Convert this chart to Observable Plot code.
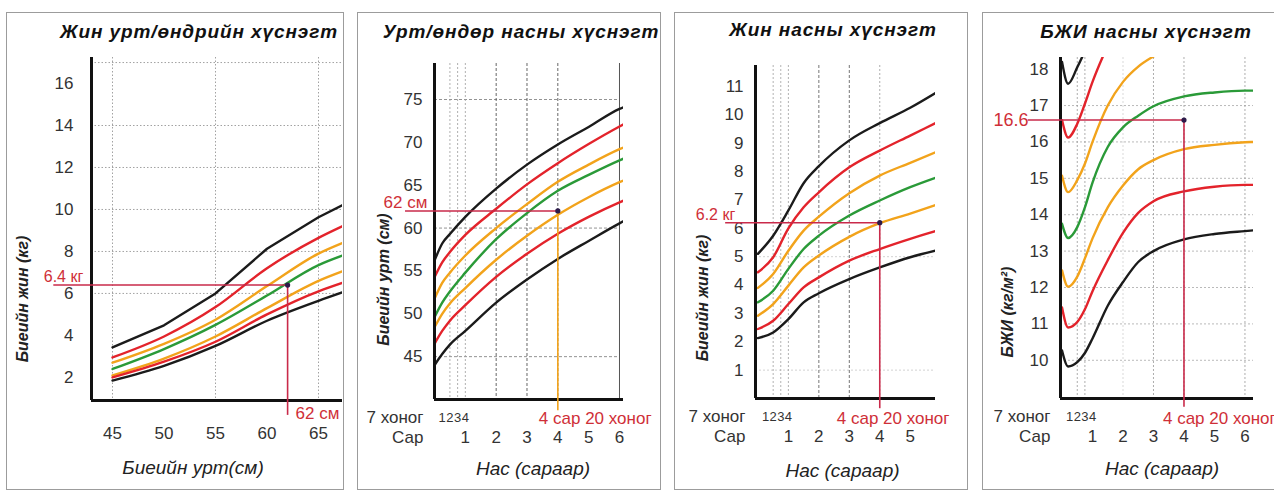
<!DOCTYPE html>
<html><head><meta charset="utf-8">
<script src="https://cdn.jsdelivr.net/npm/d3@7"></script>
<script src="https://cdn.jsdelivr.net/npm/@observablehq/plot@0.6"></script>
<style>
html,body{margin:0;padding:0;background:#fff}
body{width:1274px;height:491px;overflow:hidden;position:relative;font-family:"Liberation Sans",Arial,sans-serif}
.box{position:absolute;border:1.5px solid #9c9c9c;box-sizing:border-box}
.title{position:absolute;font-weight:bold;font-style:italic;font-size:19px;letter-spacing:0.9px;white-space:nowrap;transform:translate(-50%,-50%);color:#111}
svg{overflow:visible}
</style></head><body>
<script>
// ---------- shared ----------
const FONT = "'Liberation Sans', Arial, sans-serif";
const BLACK = "#1b1b1b", RED = "#e3232b", ORANGE = "#f2a31b", GREEN = "#2a9a38";
const seriesColors = [BLACK, RED, ORANGE, GREEN, ORANGE, RED, BLACK]; // +3,+2,+1,0,-1,-2,-3
const ANNOT = "#c92a4a", ANNOT_TEXT = "#cf2f38", DOT = "#2d1b4a";

// ---------- panel 1: weight-for-length ----------
const p1Title = "Жин урт/өндрийн хүснэгт";
const p1YLabel = "Биеийн жин (кг)";
const p1XLabel = "Биеийн урт(см)";
const p1Length = [45, 50, 55, 60, 65, 67.3];
const p1P3 = [3.43, 4.48, 6.0, 8.13, 9.63, 10.2];
const p1P2 = [2.95, 3.95, 5.35, 7.2, 8.65, 9.2];
const p1P1 = [2.7, 3.6, 4.75, 6.35, 7.9, 8.4];
const p1M  = [2.4, 3.35, 4.5, 5.9, 7.35, 7.8];
const p1N1 = [2.1, 2.9, 3.95, 5.3, 6.6, 7.05];
const p1N2 = [2.0, 2.75, 3.7, 5.0, 6.1, 6.5];
const p1N3 = [1.85, 2.55, 3.5, 4.7, 5.65, 6.05];
const p1YTicks = [2, 4, 6, 8, 10, 12, 14, 16];
const p1XTicks = [45, 50, 55, 60, 65];
const p1GridY = [6, 8, 10, 12, 14, 17];
const p1GridX = [45, 55, 65];
const p1Marker = {x: 62, y: 6.4, yText: "6.4 кг", xText: "62 см", lineFrom: 39.3, lineTo: 0.19};

// ---------- panel 2: length-for-age ----------
const p2Title = "Урт/өндөр насны хүснэгт";
const p2YLabel = "Биеийн урт (см)";
const p2Age = [0, 0.25, 0.5, 1, 2, 3, 4, 5, 6, 6.13];
const p2P3 = [56.2, 58.2, 59.3, 61.3, 64.6, 67.4, 69.75, 71.8, 73.9, 74.1];
const p2P2 = [54.26, 56.0, 57.2, 59.2, 62.25, 65.1, 67.57, 69.8, 71.85, 72.1];
const p2P1 = [51.74, 53.6, 54.8, 56.8, 60.0, 62.8, 65.4, 67.4, 69.2, 69.4];
const p2M  = [49.6, 51.3, 52.6, 54.8, 58.7, 61.75, 64.35, 66.2, 67.9, 68.1];
const p2N1 = [48.43, 50.0, 51.2, 53.0, 56.3, 59.1, 61.55, 63.6, 65.35, 65.55];
const p2N2 = [46.5, 48.0, 49.2, 51.0, 54.3, 57.0, 59.33, 61.3, 63.0, 63.2];
const p2N3 = [44.0, 45.3, 46.4, 48.0, 51.3, 54.0, 56.4, 58.5, 60.55, 60.8];
const p2YTicks = [45, 50, 55, 60, 65, 70, 75];
const p2Months = [1, 2, 3, 4, 5, 6];
const p2GridY = [45, 60, 75];
const p2Marker = {x: 4, y: 62, yText: "62 см", xText: "4 сар 20 хоног", lineFrom: -0.94, lineTo: 38.7};

// ---------- panel 3: weight-for-age ----------
const p3Title = "Жин насны хүснэгт";
const p3YLabel = "Биеийн жин (кг)";
const p3Age = [0, 0.5, 1, 1.5, 2, 3, 4, 5, 5.83];
const p3P3 = [5.10, 5.74, 6.63, 7.59, 8.19, 9.10, 9.71, 10.25, 10.77];
const p3P2 = [4.45, 4.98, 6.0, 6.74, 7.27, 8.15, 8.74, 9.27, 9.71];
const p3P1 = [3.90, 4.39, 5.21, 5.92, 6.41, 7.24, 7.86, 8.31, 8.68];
const p3M  = [3.39, 3.80, 4.57, 5.27, 5.74, 6.45, 6.98, 7.45, 7.78];
const p3N1 = [2.92, 3.33, 3.98, 4.62, 5.04, 5.7, 6.18, 6.52, 6.82];
const p3N2 = [2.45, 2.74, 3.33, 3.92, 4.27, 4.86, 5.27, 5.63, 5.90];
const p3N3 = [2.13, 2.33, 2.80, 3.39, 3.71, 4.21, 4.62, 4.98, 5.21];
const p3YTicks = [1, 2, 3, 4, 5, 6, 7, 8, 9, 10, 11];
const p3Months = [1, 2, 3, 4, 5];
const p3GridY = [1, 5];
const p3Marker = {x: 4, y: 6.2, yText: "6.2 кг", xText: "4 сар 20 хоног", lineFrom: -1.06, lineTo: -0.36};

// ---------- panel 4: BMI-for-age ----------
const p4Title = "БЖИ насны хүснэгт";
const p4YLabel = "БЖИ (кг/м²)";
const p4Age = [0, 0.2, 0.5, 0.75, 1, 1.5, 2, 2.5, 3, 4, 5, 6, 6.28];
const p4P3 = [18.2, 17.6, 18.05, 18.5, 19.0, null, null, null, null, null, null, null, null];
const p4P2 = [16.6, 16.12, 16.5, 17.05, 17.65, 18.65, null, null, null, null, null, null, null];
const p4P1 = [15.07, 14.62, 14.95, 15.4, 16.0, 17.0, 17.65, 18.07, 18.35, 18.75, null, null, null];
const p4M  = [13.75, 13.36, 13.66, 14.2, 14.88, 15.86, 16.4, 16.72, 16.98, 17.25, 17.36, 17.41, 17.41];
const p4N1 = [12.47, 12.02, 12.3, 12.8, 13.35, 14.2, 14.8, 15.25, 15.5, 15.8, 15.92, 15.99, 16.0];
const p4N2 = [11.45, 10.9, 11.05, 11.4, 11.9, 12.75, 13.5, 14.05, 14.37, 14.64, 14.77, 14.82, 14.82];
const p4N3 = [10.27, 9.83, 9.95, 10.2, 10.6, 11.5, 12.15, 12.7, 13.0, 13.32, 13.47, 13.55, 13.57];
const p4YTicks = [10, 11, 12, 13, 14, 15, 16, 17, 18];
const p4Months = [1, 2, 3, 4, 5, 6];
const p4GridY = [10, 11, 12, 13, 14, 15, 16, 17];
const p4Marker = {x: 4, y: 16.6, yText: "16.6", xText: "4 сар 20 хоног", lineFrom: -1.11, lineTo: 8.71};

// shared age-axis labels
const weekLabel = "7 хоног", monthLabel = "Сар", ageLabel = "Нас (сараар)";
const weeks = [1, 2, 3, 4];

// ---------- helpers ----------
function toRows(xs, series) {
  return series.flatMap((ys, s) => xs.map((x, i) => ({x, y: ys[i], s}))).filter(d => d.y != null);
}
function curveMarks(rows, curveFor) {
  return d3.range(7).map(s => Plot.line(rows.filter(d => d.s === s), {
    x: "x", y: "y", stroke: seriesColors[s], strokeWidth: 2.4,
    curve: curveFor ? curveFor(s) : "monotone-x", clip: true
  }));
}
function box(left, width) {
  const d = document.createElement("div");
  d.className = "box";
  Object.assign(d.style, {left: left + "px", top: "12px", width: width + "px", height: "478px"});
  document.body.append(d);
}
function title(text, cx, cy) {
  const d = document.createElement("div");
  d.className = "title"; d.textContent = text;
  Object.assign(d.style, {left: cx + "px", top: cy + "px"});
  document.body.append(d);
}
function place(svg, left) {
  svg.style.position = "absolute"; svg.style.left = left + "px"; svg.style.top = "0px";
  document.body.append(svg);
}
const MID = {lineAnchor: "middle"};
const tickText = (ticks, dx) => Plot.text(ticks, {y: d => d, text: d => String(d), frameAnchor: "left",
  dx, textAnchor: "end", ...MID, fontSize: 17, fill: "#333"});
const axisLines = (xd, yd) => [
  Plot.ruleX([xd[0]], {stroke: "#111", strokeWidth: 3}),
  Plot.ruleY([yd[0]], {stroke: "#111", strokeWidth: 3})
];
function ageAxis(months, labelDx, titleDx, titleDy) {
  return [
    Plot.text(weeks, {x: d => d / 4, text: d => String(d), frameAnchor: "bottom", dy: 18, ...MID, textAnchor: "middle", fontSize: 13, fill: "#333"}),
    Plot.text(months, {x: d => d, text: d => String(d), frameAnchor: "bottom", dy: 38, ...MID, textAnchor: "middle", fontSize: 17, fill: "#333"}),
    Plot.text([weekLabel], {text: d => d, frameAnchor: "bottom-left", dx: labelDx, dy: 18, ...MID, textAnchor: "end", fontSize: 17, fill: "#333"}),
    Plot.text([monthLabel], {text: d => d, frameAnchor: "bottom-left", dx: labelDx, dy: 38, ...MID, textAnchor: "end", fontSize: 17, fill: "#333"}),
    Plot.text([ageLabel], {text: d => d, frameAnchor: "bottom", dx: titleDx, dy: titleDy, ...MID, textAnchor: "middle", fontSize: 19, fontStyle: "italic", fill: "#222"})
  ];
}
function yTitle(text, dx, dy) {
  return Plot.text([text], {text: d => d, frameAnchor: "left", rotate: -90, dx, dy, textAnchor: "middle", ...MID,
    fontSize: 16, fontWeight: "bold", fontStyle: "italic", fill: "#222"});
}
function marker(m, vColor, o) {
  return [
    Plot.ruleY([m], {y: "y", x1: "lineFrom", x2: "x", stroke: ANNOT, strokeWidth: 1.5}),
    Plot.ruleX([m], {x: "x", y1: "y", y2: "lineTo", stroke: vColor, strokeWidth: 1.6}),
    Plot.dot([m], {x: "x", y: "y", r: 2.6, fill: DOT}),
    Plot.text([m], {y: "y", text: "yText", frameAnchor: "left", dx: o.ydx, dy: o.ydy, textAnchor: o.yAnchor || "middle", ...MID,
      fontSize: o.yFont || 16, fill: ANNOT_TEXT}),
    Plot.text([m], {x: "x", text: "xText", frameAnchor: "bottom", dx: o.xdx, dy: o.xdy, textAnchor: "start", ...MID,
      fontSize: 17, fill: ANNOT_TEXT})
  ];
}
const gridStyle = (stroke, dash, w) => ({stroke, strokeDasharray: dash, strokeWidth: w || 0.8});

// ---------- panel 1 ----------
{
  box(6, 338);
  title(p1Title, 199, 32);
  const xd = [42.96, 67.33], yd = [0.9, 17.24];
  const rows = toRows(p1Length, [p1P3, p1P2, p1P1, p1M, p1N1, p1N2, p1N3]);
  place(Plot.plot({
    width: 338, height: 491, marginLeft: 85, marginRight: 2, marginTop: 57, marginBottom: 91,
    x: {domain: xd, axis: null}, y: {domain: yd, axis: null},
    style: {fontFamily: FONT, background: "transparent", overflow: "visible"},
    marks: [
      Plot.ruleY(p1GridY, gridStyle("#8a8a8a", "1.5,2")),
      Plot.ruleX(p1GridX, gridStyle("#8a8a8a", "1.5,2")),
      ...curveMarks(rows, s => s === 0 ? "linear" : "monotone-x"),
      ...axisLines(xd, yd),
      tickText(p1YTicks, -18),
      Plot.text(p1XTicks, {x: d => d, text: d => String(d), frameAnchor: "bottom", dy: 33, ...MID, textAnchor: "middle", fontSize: 17, fill: "#333"}),
      yTitle(p1YLabel, -69, 70),
      Plot.text([p1XLabel], {text: d => d, frameAnchor: "bottom", dx: -24, dy: 67, ...MID, textAnchor: "middle", fontSize: 19, fontStyle: "italic", fill: "#222"}),
      ...marker(p1Marker, ANNOT, {ydx: -28, ydy: -8, xdx: 8, xdy: 13, yFont: 16})
    ]
  }), 6);
}

// ---------- panel 2 ----------
{
  box(357, 304);
  title(p2Title, 521, 32);
  const xd = [0, 6.13], yd = [40, 79.2];
  const rows = toRows(p2Age, [p2P3, p2P2, p2P1, p2M, p2N1, p2N2, p2N3]);
  place(Plot.plot({
    width: 304, height: 491, marginLeft: 77, marginRight: 38, marginTop: 63, marginBottom: 92,
    x: {domain: xd, axis: null}, y: {domain: yd, axis: null},
    style: {fontFamily: FONT, background: "transparent", overflow: "visible"},
    marks: [
      Plot.ruleY(p2GridY, {...gridStyle("#777", "3,2"), x1: 0, x2: 6}),
      Plot.ruleX(weeks.slice(1).map(w => w / 4), gridStyle("#9a9a9a", "2,2")),
      Plot.ruleX([2, 3, 4], gridStyle("#555", "3,2", 0.9)),
      Plot.ruleX([6], {stroke: "#555", strokeWidth: 1}),
      ...curveMarks(rows),
      ...axisLines(xd, yd),
      tickText(p2YTicks, -12),
      ...ageAxis(p2Months, -11, 4, 69),
      yTitle(p2YLabel, -51, 48),
      ...marker(p2Marker, ORANGE, {ydx: -29, ydy: -8, xdx: -19, xdy: 19, yFont: 17})
    ]
  }), 357);
}

// ---------- panel 3 ----------
{
  box(674, 294);
  title(p3Title, 833, 30);
  const xd = [-0.08, 5.83], yd = [0, 11.74];
  const rows = toRows(p3Age, [p3P3, p3P2, p3P1, p3M, p3N1, p3N2, p3N3]);
  place(Plot.plot({
    width: 294, height: 491, marginLeft: 81, marginRight: 33, marginTop: 65, marginBottom: 93,
    x: {domain: xd, axis: null}, y: {domain: yd, axis: null},
    style: {fontFamily: FONT, background: "transparent", overflow: "visible"},
    marks: [
      Plot.ruleY(p3GridY, gridStyle("#c8c8c8", "2,2")),
      Plot.ruleX(weeks.slice(1).map(w => w / 4), gridStyle("#a0a0a0", "2,2")),
      Plot.ruleX([2, 3], gridStyle("#666", "3,2", 0.9)),
      Plot.ruleX([4], gridStyle("#999", "2,2")),
      ...curveMarks(rows),
      ...axisLines(xd, yd),
      tickText(p3YTicks, -12),
      ...ageAxis(p3Months, -10, -3, 72),
      yTitle(p3YLabel, -53, 66),
      ...marker(p3Marker, ANNOT, {ydx: -40, ydy: -8, xdx: -43, xdy: 20, yFont: 16})
    ]
  }), 674);
}

// ---------- panel 4 ----------
{
  box(982, 320);
  title(p4Title, 1146, 32);
  const xd = [-0.05, 6.28], yd = [8.95, 18.32];
  const rows = toRows(p4Age, [p4P3, p4P2, p4P1, p4M, p4N1, p4N2, p4N3]);
  place(Plot.plot({
    width: 292, height: 491, marginLeft: 78, marginRight: 21, marginTop: 57, marginBottom: 93,
    x: {domain: xd, axis: null}, y: {domain: yd, axis: null},
    style: {fontFamily: FONT, background: "transparent", overflow: "visible"},
    marks: [
      Plot.ruleY(p4GridY, gridStyle("#a8a8a8", "2,2")),
      Plot.ruleX([0.5, 0.75], gridStyle("#999", "2,2")),
      Plot.ruleX([2], gridStyle("#cfcfcf", "2,2")),
      Plot.ruleX([3, 4, 6], gridStyle("#999", "2,2")),
      ...curveMarks(rows),
      ...axisLines(xd, yd),
      tickText(p4YTicks, -12),
      ...ageAxis(p4Months, -10, 5, 70),
      yTitle(p4YLabel, -53, 84),
      ...marker(p4Marker, ANNOT, {ydx: -32, ydy: 0, yAnchor: "end", xdx: -21, xdy: 20, yFont: 18})
    ]
  }), 982);
}
</script>
</body></html>
